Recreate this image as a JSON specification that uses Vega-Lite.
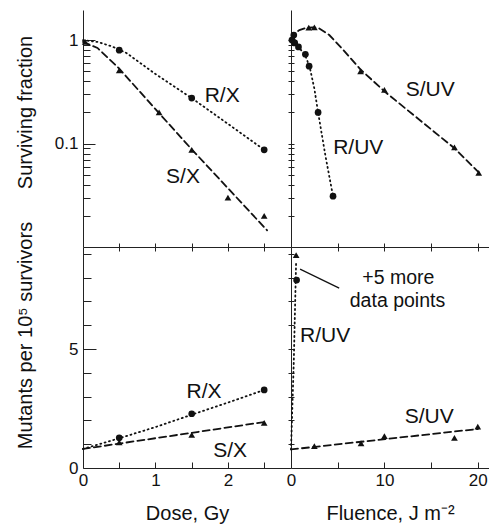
{
  "$schema": "https://vega.github.io/schema/vega-lite/v6.json",
  "padding": {"left": 14, "top": 10, "right": 1, "bottom": 4},
  "columns": 2,
  "spacing": 0,
  "bounds": "flush",
  "datasets": {
    "points": [
      {"panel": "TL", "strain": "R", "x": 0.5, "y": 0.8},
      {"panel": "TL", "strain": "R", "x": 1.5, "y": 0.275},
      {"panel": "TL", "strain": "R", "x": 2.5, "y": 0.087},
      {"panel": "TL", "strain": "S", "x": 0.03, "y": 0.96},
      {"panel": "TL", "strain": "S", "x": 0.5, "y": 0.51},
      {"panel": "TL", "strain": "S", "x": 1.05, "y": 0.2},
      {"panel": "TL", "strain": "S", "x": 1.5, "y": 0.087},
      {"panel": "TL", "strain": "S", "x": 2.0, "y": 0.03},
      {"panel": "TL", "strain": "S", "x": 2.5, "y": 0.02},
      {"panel": "TR", "strain": "R", "x": 0.1, "y": 1.0},
      {"panel": "TR", "strain": "R", "x": 0.3, "y": 1.12},
      {"panel": "TR", "strain": "R", "x": 0.4, "y": 0.94},
      {"panel": "TR", "strain": "R", "x": 0.8, "y": 0.86},
      {"panel": "TR", "strain": "R", "x": 1.54, "y": 0.73},
      {"panel": "TR", "strain": "R", "x": 1.94, "y": 0.56},
      {"panel": "TR", "strain": "R", "x": 2.9, "y": 0.2},
      {"panel": "TR", "strain": "R", "x": 4.5, "y": 0.031},
      {"panel": "TR", "strain": "S", "x": 0.2, "y": 1.05},
      {"panel": "TR", "strain": "S", "x": 1.9, "y": 1.32},
      {"panel": "TR", "strain": "S", "x": 2.5, "y": 1.33},
      {"panel": "TR", "strain": "S", "x": 7.45, "y": 0.5},
      {"panel": "TR", "strain": "S", "x": 10.0, "y": 0.33},
      {"panel": "TR", "strain": "S", "x": 17.5, "y": 0.092},
      {"panel": "TR", "strain": "S", "x": 20.1, "y": 0.052},
      {"panel": "BL", "strain": "R", "x": 0.5, "y": 1.27},
      {"panel": "BL", "strain": "R", "x": 1.5, "y": 2.28},
      {"panel": "BL", "strain": "R", "x": 2.5, "y": 3.28},
      {"panel": "BL", "strain": "S", "x": 0.5, "y": 1.08},
      {"panel": "BL", "strain": "S", "x": 1.5, "y": 1.39},
      {"panel": "BL", "strain": "S", "x": 2.5, "y": 1.9},
      {"panel": "BR", "strain": "R", "x": 0.6, "y": 7.9},
      {"panel": "BR", "strain": "Roff", "x": 0.55, "y": 8.95},
      {"panel": "BR", "strain": "S", "x": 2.5, "y": 0.92},
      {"panel": "BR", "strain": "S", "x": 7.5, "y": 1.04},
      {"panel": "BR", "strain": "S", "x": 10.0, "y": 1.34},
      {"panel": "BR", "strain": "S", "x": 17.5, "y": 1.27},
      {"panel": "BR", "strain": "S", "x": 20.0, "y": 1.74}
    ],
    "fits": [
      {"panel": "TL", "strain": "R", "x": 0, "y": 1.0},
      {"panel": "TL", "strain": "R", "x": 0.2, "y": 0.96},
      {"panel": "TL", "strain": "R", "x": 0.4, "y": 0.87},
      {"panel": "TL", "strain": "R", "x": 0.6, "y": 0.75},
      {"panel": "TL", "strain": "R", "x": 1.0, "y": 0.47},
      {"panel": "TL", "strain": "R", "x": 1.5, "y": 0.275},
      {"panel": "TL", "strain": "R", "x": 2.0, "y": 0.155},
      {"panel": "TL", "strain": "R", "x": 2.5, "y": 0.087},
      {"panel": "TL", "strain": "S", "x": 0, "y": 0.96},
      {"panel": "TL", "strain": "S", "x": 0.2, "y": 0.84},
      {"panel": "TL", "strain": "S", "x": 0.5, "y": 0.53},
      {"panel": "TL", "strain": "S", "x": 1.0, "y": 0.215},
      {"panel": "TL", "strain": "S", "x": 1.5, "y": 0.088},
      {"panel": "TL", "strain": "S", "x": 2.0, "y": 0.037},
      {"panel": "TL", "strain": "S", "x": 2.54, "y": 0.0145},
      {"panel": "TR", "strain": "R", "x": 0, "y": 1.0},
      {"panel": "TR", "strain": "R", "x": 0.8, "y": 0.86},
      {"panel": "TR", "strain": "R", "x": 1.5, "y": 0.72},
      {"panel": "TR", "strain": "R", "x": 2.0, "y": 0.55},
      {"panel": "TR", "strain": "R", "x": 2.5, "y": 0.34},
      {"panel": "TR", "strain": "R", "x": 2.9, "y": 0.2},
      {"panel": "TR", "strain": "R", "x": 3.7, "y": 0.075},
      {"panel": "TR", "strain": "R", "x": 4.5, "y": 0.031},
      {"panel": "TR", "strain": "S", "x": 0, "y": 1.02},
      {"panel": "TR", "strain": "S", "x": 0.4, "y": 1.16},
      {"panel": "TR", "strain": "S", "x": 0.9, "y": 1.25},
      {"panel": "TR", "strain": "S", "x": 1.6, "y": 1.31},
      {"panel": "TR", "strain": "S", "x": 2.3, "y": 1.33},
      {"panel": "TR", "strain": "S", "x": 3.0, "y": 1.3},
      {"panel": "TR", "strain": "S", "x": 4.1, "y": 1.12},
      {"panel": "TR", "strain": "S", "x": 5.4, "y": 0.84},
      {"panel": "TR", "strain": "S", "x": 7.45, "y": 0.52},
      {"panel": "TR", "strain": "S", "x": 10.0, "y": 0.32},
      {"panel": "TR", "strain": "S", "x": 17.5, "y": 0.09},
      {"panel": "TR", "strain": "S", "x": 20.25, "y": 0.051},
      {"panel": "BL", "strain": "R", "x": 0, "y": 0.8},
      {"panel": "BL", "strain": "R", "x": 0.5, "y": 1.25},
      {"panel": "BL", "strain": "R", "x": 1.0, "y": 1.72},
      {"panel": "BL", "strain": "R", "x": 1.5, "y": 2.24},
      {"panel": "BL", "strain": "R", "x": 2.0, "y": 2.75},
      {"panel": "BL", "strain": "R", "x": 2.5, "y": 3.28},
      {"panel": "BL", "strain": "S", "x": 0, "y": 0.8},
      {"panel": "BL", "strain": "S", "x": 2.54, "y": 1.95},
      {"panel": "BR", "strain": "R", "x": 0, "y": 0.78},
      {"panel": "BR", "strain": "R", "x": 0.3, "y": 4.5},
      {"panel": "BR", "strain": "R", "x": 0.55, "y": 8.7},
      {"panel": "BR", "strain": "S", "x": 0, "y": 0.78},
      {"panel": "BR", "strain": "S", "x": 20.0, "y": 1.64}
    ],
    "labels": [
      {"panel": "TL", "text": "R/X", "x": 1.92, "y": 0.29},
      {"panel": "TL", "text": "S/X", "x": 1.38, "y": 0.048},
      {"panel": "TR", "text": "S/UV", "x": 14.9, "y": 0.327},
      {"panel": "TR", "text": "R/UV", "x": 7.2, "y": 0.0913},
      {"panel": "BL", "text": "R/X", "x": 1.67, "y": 3.19},
      {"panel": "BL", "text": "S/X", "x": 2.03, "y": 0.71},
      {"panel": "BR", "text": "S/UV", "x": 14.8, "y": 2.14},
      {"panel": "BR", "text": "R/UV", "x": 3.66, "y": 5.55}
    ],
    "notes": [
      {"text": "+5 more", "x": 11.5, "y": 7.97},
      {"text": "data points", "x": 11.4, "y": 7.03}
    ],
    "arrow": [
      {"x": 5.16, "y": 7.56, "x2": 0.97, "y2": 8.36}
    ]
  },
  "concat": [
    {
      "width": 208, "height": 237,
      "resolve": {"axis": {"x": "independent", "y": "independent"}},
      "layer": [
        {
          "data": {"name": "fits"},
          "transform": [{"filter": "datum.panel === 'TL'"}],
          "mark": {"type": "line", "strokeWidth": 1.8, "strokeCap": "round", "color": "#111"},
          "encoding": {
            "x": {"field": "x", "type": "quantitative", "scale": {"domain": [0, 2.87], "nice": false, "zero": false},
                  "axis": {"orient": "bottom", "values": [0.5, 1, 1.5, 2, 2.5], "labels": false, "tickSize": 4, "title": null}},
            "y": {"field": "y", "type": "quantitative", "scale": {"type": "log", "domain": [0.01, 1.955], "nice": false},
                  "axis": {"orient": "left", "values": [0.1, 1], "tickSize": -12, "labelPadding": 17, "format": "~g", "title": "Surviving fraction", "titleX": -52, "titleY": 102, "titleBaseline": "alphabetic", "titleAngle": 270}},
            "strokeDash": {"field": "strain", "type": "nominal", "scale": {"domain": ["R", "S"], "range": [[1, 3.5], [7, 4]]}, "legend": null},
            "detail": {"field": "strain"}
          }
        },
        {
          "data": {"name": "points"},
          "transform": [{"filter": "datum.panel === 'TL'"}],
          "mark": {"type": "point", "filled": true, "opacity": 1, "color": "#111", "size": 45},
          "encoding": {
            "x": {"field": "x", "type": "quantitative",
                  "axis": {"orient": "bottom", "values": [0.5, 1, 1.5, 2, 2.5], "labels": false, "domain": false, "tickSize": -4, "title": null}},
            "y": {"field": "y", "type": "quantitative",
                  "axis": {"orient": "left", "values": [0.02, 0.03, 0.04, 0.05, 0.06, 0.07, 0.08, 0.09, 0.2, 0.3, 0.4, 0.5, 0.6, 0.7, 0.8, 0.9], "labels": false, "domain": false, "tickSize": -7, "title": null}},
            "shape": {"field": "strain", "type": "nominal", "scale": {"domain": ["R", "S", "Roff"], "range": ["circle", "triangle-up", "triangle-up"]}, "legend": null}
          }
        },
        {
          "data": {"name": "labels"},
          "transform": [{"filter": "datum.panel === 'TL'"}],
          "mark": {"type": "text", "fontSize": 21, "font": "Liberation Sans", "color": "#111", "align": "center", "baseline": "middle"},
          "encoding": {
            "x": {"field": "x", "type": "quantitative", "axis": null},
            "y": {"field": "y", "type": "quantitative", "axis": null},
            "text": {"field": "text"}
          }
        }
      ]
    },
    {
      "width": 198, "height": 237,
      "resolve": {"axis": {"x": "independent", "y": "independent"}},
      "layer": [
        {
          "data": {"name": "fits"},
          "transform": [{"filter": "datum.panel === 'TR'"}],
          "mark": {"type": "line", "strokeWidth": 1.8, "strokeCap": "round", "color": "#111"},
          "encoding": {
            "x": {"field": "x", "type": "quantitative", "scale": {"domain": [0, 21.2], "nice": false, "zero": false},
                  "axis": {"orient": "bottom", "values": [5, 10, 15, 20], "labels": false, "tickSize": 4, "title": null}},
            "y": {"field": "y", "type": "quantitative", "scale": {"type": "log", "domain": [0.01, 1.955], "nice": false},
                  "axis": {"orient": "left", "values": [0.02, 0.03, 0.04, 0.05, 0.06, 0.07, 0.08, 0.09, 0.1, 0.2, 0.3, 0.4, 0.5, 0.6, 0.7, 0.8, 0.9, 1], "labels": false, "tickSize": 3, "title": null}},
            "strokeDash": {"field": "strain", "type": "nominal", "scale": {"domain": ["R", "S"], "range": [[1, 3.5], [7, 4]]}, "legend": null},
            "detail": {"field": "strain"}
          }
        },
        {
          "data": {"name": "points"},
          "transform": [{"filter": "datum.panel === 'TR'"}],
          "mark": {"type": "point", "filled": true, "opacity": 1, "color": "#111", "size": 45},
          "encoding": {
            "x": {"field": "x", "type": "quantitative",
                  "axis": {"orient": "bottom", "values": [5, 10, 15, 20], "labels": false, "domain": false, "tickSize": -4, "title": null}},
            "y": {"field": "y", "type": "quantitative",
                  "axis": {"orient": "left", "values": [0.02, 0.03, 0.04, 0.05, 0.06, 0.07, 0.08, 0.09, 0.1, 0.2, 0.3, 0.4, 0.5, 0.6, 0.7, 0.8, 0.9, 1], "labels": false, "domain": false, "tickSize": -3, "title": null}},
            "shape": {"field": "strain", "type": "nominal", "scale": {"domain": ["R", "S", "Roff"], "range": ["circle", "triangle-up", "triangle-up"]}, "legend": null}
          }
        },
        {
          "data": {"name": "labels"},
          "transform": [{"filter": "datum.panel === 'TR'"}],
          "mark": {"type": "text", "fontSize": 21, "font": "Liberation Sans", "color": "#111", "align": "center", "baseline": "middle"},
          "encoding": {
            "x": {"field": "x", "type": "quantitative", "axis": null},
            "y": {"field": "y", "type": "quantitative", "axis": null},
            "text": {"field": "text"}
          }
        }
      ]
    },
    {
      "width": 208, "height": 221,
      "resolve": {"axis": {"x": "independent", "y": "independent"}},
      "layer": [
        {
          "data": {"name": "fits"},
          "transform": [{"filter": "datum.panel === 'BL'"}],
          "mark": {"type": "line", "strokeWidth": 1.8, "strokeCap": "round", "color": "#111"},
          "encoding": {
            "x": {"field": "x", "type": "quantitative", "scale": {"domain": [0, 2.87], "nice": false, "zero": false},
                  "axis": {"orient": "bottom", "values": [0, 1, 2], "ticks": false, "labelPadding": 4, "titlePadding": 15, "title": "Dose, Gy"}},
            "y": {"field": "y", "type": "quantitative", "scale": {"domain": [0, 9.29], "nice": false, "zero": false},
                  "axis": {"orient": "left", "values": [0, 5], "tickSize": -13, "labelPadding": 18, "title": "Mutants per 10⁵ survivors", "titleX": -52, "titleY": 88, "titleBaseline": "alphabetic", "titleAngle": 270}},
            "strokeDash": {"field": "strain", "type": "nominal", "scale": {"domain": ["R", "S"], "range": [[1, 3.5], [7, 4]]}, "legend": null},
            "detail": {"field": "strain"}
          }
        },
        {
          "data": {"name": "points"},
          "transform": [{"filter": "datum.panel === 'BL'"}],
          "mark": {"type": "point", "filled": true, "opacity": 1, "color": "#111", "size": 45},
          "encoding": {
            "x": {"field": "x", "type": "quantitative",
                  "axis": {"orient": "bottom", "values": [0.5, 1, 1.5, 2, 2.5], "labels": false, "domain": false, "tickSize": -6, "title": null}},
            "y": {"field": "y", "type": "quantitative",
                  "axis": {"orient": "left", "values": [1, 2, 3, 4, 6, 7, 8, 9], "labels": false, "domain": false, "tickSize": -8, "title": null}},
            "shape": {"field": "strain", "type": "nominal", "scale": {"domain": ["R", "S", "Roff"], "range": ["circle", "triangle-up", "triangle-up"]}, "legend": null}
          }
        },
        {
          "data": {"name": "labels"},
          "transform": [{"filter": "datum.panel === 'BL'"}],
          "mark": {"type": "text", "fontSize": 21, "font": "Liberation Sans", "color": "#111", "align": "center", "baseline": "middle"},
          "encoding": {
            "x": {"field": "x", "type": "quantitative", "axis": null},
            "y": {"field": "y", "type": "quantitative", "axis": null},
            "text": {"field": "text"}
          }
        }
      ]
    },
    {
      "width": 198, "height": 221,
      "resolve": {"axis": {"x": "independent", "y": "independent"}},
      "layer": [
        {
          "data": {"name": "fits"},
          "transform": [{"filter": "datum.panel === 'BR'"}],
          "mark": {"type": "line", "strokeWidth": 1.8, "strokeCap": "round", "color": "#111"},
          "encoding": {
            "x": {"field": "x", "type": "quantitative", "scale": {"domain": [0, 21.2], "nice": false, "zero": false},
                  "axis": {"orient": "bottom", "values": [0, 10, 20], "ticks": false, "labelPadding": 4, "titlePadding": 15, "title": "Fluence, J m⁻²"}},
            "y": {"field": "y", "type": "quantitative", "scale": {"domain": [0, 9.29], "nice": false, "zero": false},
                  "axis": {"orient": "left", "values": [1, 2, 3, 4, 5, 6, 7, 8, 9], "labels": false, "tickSize": 3, "title": null}},
            "strokeDash": {"field": "strain", "type": "nominal", "scale": {"domain": ["R", "S"], "range": [[1, 3.5], [7, 4]]}, "legend": null},
            "detail": {"field": "strain"}
          }
        },
        {
          "data": {"name": "points"},
          "transform": [{"filter": "datum.panel === 'BR'"}],
          "mark": {"type": "point", "filled": true, "opacity": 1, "color": "#111", "size": 45},
          "encoding": {
            "x": {"field": "x", "type": "quantitative",
                  "axis": {"orient": "bottom", "values": [5, 10, 15, 20], "labels": false, "domain": false, "tickSize": -6, "title": null}},
            "y": {"field": "y", "type": "quantitative",
                  "axis": {"orient": "left", "values": [1, 2, 3, 4, 5, 6, 7, 8, 9], "labels": false, "domain": false, "tickSize": -3, "title": null}},
            "shape": {"field": "strain", "type": "nominal", "scale": {"domain": ["R", "S", "Roff"], "range": ["circle", "triangle-up", "triangle-up"]}, "legend": null}
          }
        },
        {
          "data": {"name": "labels"},
          "transform": [{"filter": "datum.panel === 'BR'"}],
          "mark": {"type": "text", "fontSize": 21, "font": "Liberation Sans", "color": "#111", "align": "center", "baseline": "middle"},
          "encoding": {
            "x": {"field": "x", "type": "quantitative", "axis": null},
            "y": {"field": "y", "type": "quantitative", "axis": null},
            "text": {"field": "text"}
          }
        },
        {
          "data": {"name": "notes"},
          "mark": {"type": "text", "fontSize": 19.5, "font": "Liberation Sans", "color": "#111", "align": "center", "baseline": "middle"},
          "encoding": {
            "x": {"field": "x", "type": "quantitative", "axis": null},
            "y": {"field": "y", "type": "quantitative", "axis": null},
            "text": {"field": "text"}
          }
        },
        {
          "data": {"name": "arrow"},
          "mark": {"type": "rule", "strokeWidth": 1.2, "color": "#111"},
          "encoding": {
            "x": {"field": "x", "type": "quantitative", "axis": null},
            "y": {"field": "y", "type": "quantitative", "axis": null},
            "x2": {"field": "x2"},
            "y2": {"field": "y2"}
          }
        }
      ]
    }
  ],
  "config": {
    "font": "Liberation Sans",
    "view": {"stroke": null},
    "axis": {
      "labelFont": "Liberation Sans", "titleFont": "Liberation Sans",
      "labelFontSize": 17, "titleFontSize": 20, "titleFontWeight": "normal",
      "labelColor": "#111", "titleColor": "#111",
      "domainColor": "#222", "tickColor": "#222", "domainWidth": 1, "tickWidth": 1,
      "grid": false, "labelFlush": false
    }
  }
}
